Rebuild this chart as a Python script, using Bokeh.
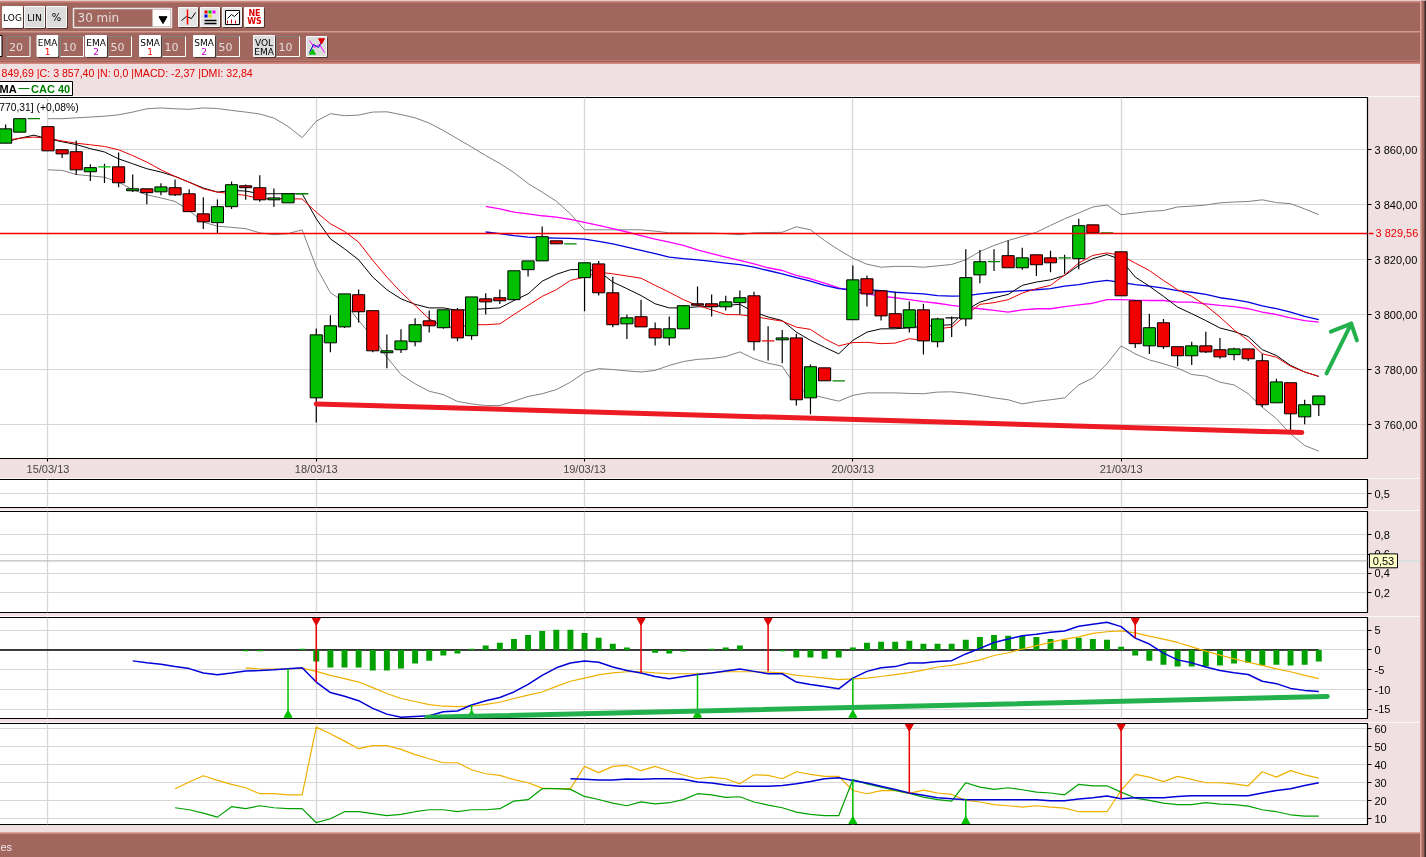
from bokeh.plotting import figure
from bokeh.layouts import column
from bokeh.models import Range1d, FixedTicker, Label, Span
from bokeh.core.properties import value
from bokeh.embed import file_html
from bokeh.resources import INLINE

# ---------------- data ----------------
candle_index = list(range(-22, 72))
opens = [3862.4,3866.4,3871.3,3868.4,3860,3859.3,3852,3853.8,3853.8,3845.1,
         3845.8,3844.7,3846.2,3844,3836.7,3833.5,3839.3,3846.9,3846.2,3841.8,
         3840.7,3844,3769.8,3789.8,3795.6,3807.3,3801.5,3786.2,3787.3,3790.2,
         3797.8,3795.3,3801.8,3792.4,3805.8,3806.2,3805.5,3816.4,3819.6,3826.9,
         3825.8,3813.5,3818.5,3808,3796.7,3799.3,3794.9,3791.6,3794.9,3804,
         3804,3802.9,3804.4,3806.9,3790.5,3790.9,3791.6,3769.8,3780.7,3776,
         3798.2,3813.1,3808.7,3800.4,3795.3,3801.8,3790.2,3798.9,3798.5,3814.5,
         3819.3,3821.5,3817.1,3821.8,3820.7,3820.7,3820.4,3832.7,3829.8,3822.9,
         3805.1,3788.7,3797.1,3788.4,3785.1,3788.7,3787.3,3785.5,3787.6,3783.3,
         3768,3775.3,3762.9,3767.3]
highs = [3869.2,3871.3,3871.3,3868.4,3860,3863.4,3854.7,3854.9,3859,3851,
         3845.8,3847.8,3849.2,3845.6,3842.7,3841.9,3848.5,3847.4,3850.7,3845.9,
         3844,3844,3795,3799.8,3807.6,3809.2,3801.5,3792.8,3794.7,3798.7,
         3801.6,3801.8,3802.5,3806.5,3807.8,3809.2,3816,3819.6,3832.1,3826.9,
         3825.8,3818.9,3819.6,3813.8,3800.1,3805.5,3797.2,3799.4,3803.6,3810.3,
         3807.4,3806.9,3808.8,3808.4,3795.8,3794.5,3793.1,3781.9,3780.7,3776,
         3817.9,3814.3,3808.7,3808.4,3804.8,3804,3798.9,3799.4,3823.8,3823.6,
         3823.8,3827,3824.4,3821.8,3823.3,3821.8,3834.9,3832.7,3829.8,3822.9,
         3805.1,3800.4,3798.5,3788.4,3790.2,3793.8,3791.6,3788,3787.6,3785.8,
         3776.7,3775.3,3769.1,3770.5]
lows = [3862.4,3866.4,3871.3,3859.6,3857,3850.8,3848.6,3847.9,3846.4,3844.6,
        3840.2,3843.5,3843.2,3837.5,3831.2,3829.7,3838.5,3841.8,3841.1,3839.2,
        3840.7,3844,3760.8,3786.4,3795.2,3797.2,3786.4,3780.6,3786.1,3788.6,
        3793.6,3794.9,3790.4,3790.9,3800.1,3803.9,3805.5,3813.9,3819.6,3825.8,
        3825.8,3801.3,3807,3795.5,3791.2,3795.6,3788.8,3788.8,3794.9,3803.2,
        3799.4,3801.6,3800.1,3787,3783.4,3782.4,3767,3763.8,3776,3776,
        3798.2,3803,3797.9,3795.3,3793.6,3785.6,3788.2,3791.9,3795.8,3811.5,
        3815.9,3817.1,3816.4,3814.1,3815.5,3814.9,3816.6,3829.8,3829.8,3806.9,
        3787.9,3785.7,3787.6,3781.3,3781.7,3786.1,3784,3783.5,3783.2,3766.4,
        3768,3757.9,3760.2,3763.2]
closes = [3867.6,3871.3,3871.3,3859.6,3858.5,3852.7,3853.5,3853.8,3848,3845.8,
          3844.4,3846.5,3843.6,3837.5,3833.8,3839.3,3847.3,3846.2,3841.8,3842.5,
          3844,3844,3792.7,3796,3807.6,3801.1,3786.9,3786.9,3790.5,3796.4,
          3796,3801.8,3791.6,3806.5,3804.7,3805.1,3816,3819.6,3828.4,3825.8,
          3825.8,3818.9,3808,3796.4,3798.9,3795.6,3791.6,3794.9,3803.3,3803.5,
          3802.9,3804.7,3806.2,3790.2,3790.5,3791.6,3769.1,3781.1,3776,3776,
          3812.7,3807.6,3799.6,3795.3,3801.8,3790.5,3798.5,3798.9,3813.5,3819.3,
          3819.3,3817.1,3820.7,3818.2,3818.9,3820.7,3832.4,3829.8,3829.8,3806.9,
          3789.5,3795.3,3788.4,3785.1,3788.7,3786.5,3784.7,3787.6,3784,3767.3,
          3775.6,3764,3767.3,3770.5]
doji_colors = {-20: "#008000", -15: "#00c000", -1: "#008000", 18: "#008000", 32: "#f00000",
               37: "#008000", 45: "#000000", 48: "#008000", 53: "#008000", 56: "#008000"}

bb_index = list(range(-19, 72))
bb_upper = [3871.3,3871.3,3871.6,3871.9,3872.2,3872.7,3873.7,3874.9,3875.2,3874.9,
            3874.7,3875.2,3875,3874.3,3873.7,3873,3871.5,3868.5,3864.4,3870.4,
            3873.1,3872.4,3872.6,3873.7,3873.8,3872.8,3871.6,3869.7,3867,3864,
            3861,3857.9,3855,3851.7,3847.7,3844.6,3841.3,3836.7,3830.9,3830.9,
            3830.9,3830.9,3830.9,3830.4,3829.8,3829.8,3829.7,3829.7,3829.5,3829.1,
            3829.8,3829.9,3830,3832,3830.9,3827,3823.6,3820.6,3818.4,3817.3,
            3817.6,3817.6,3817.3,3817.8,3818.3,3820,3823,3825.2,3827,3828.5,
            3830,3832.5,3834.9,3837,3839.2,3839.9,3836.4,3837,3837.6,3837.9,
            3839.2,3839.5,3839.9,3840.7,3841,3841.2,3841.8,3840.8,3840.4,3838.5,
            3836.4]
bb_lower = [3852.7,3852.5,3851,3850.5,3850,3848.2,3845.5,3843.6,3842.5,3841.2,
            3837.9,3833.7,3832.2,3831.8,3831.3,3829.8,3829.1,3829.5,3830.9,3817.3,
            3808.1,3804.6,3797.9,3791.9,3784.6,3778.3,3774.9,3772.2,3771,3768.5,
            3767.6,3767,3767,3768.6,3770.3,3771.3,3772.8,3775.5,3779,3780.4,
            3780.1,3779.6,3779.2,3779.8,3781.6,3783,3783.8,3784.1,3784.8,3786.5,
            3784,3782.4,3781.3,3773.7,3771,3769.8,3768.6,3770.7,3771.6,3771.6,
            3771.6,3771.4,3771.3,3771.9,3772,3771.5,3770.7,3769.8,3769.1,3767.6,
            3768.5,3769.1,3769.8,3774.5,3777,3782.2,3788.7,3785.8,3783.6,3782.2,
            3780.6,3778.3,3777.7,3775.5,3774.5,3771.3,3766.4,3762.2,3756.7,3752.5,
            3750.4]
ma_black = [3862.8,3864.2,3865.3,3864,3862.9,3861.9,3860.4,3859.2,3856.7,3854.9,
            3853.1,3851.9,3850.3,3848.2,3846.1,3844.6,3845.2,3845,3844,3844,
            3844,3844,3834.9,3827.6,3824,3820,3813.7,3809.1,3805.8,3803.8,
            3802.5,3802.5,3801.6,3801.9,3802.2,3802.5,3805.2,3807.6,3812.2,3814.7,
            3816.4,3816.5,3815.9,3811.9,3809.5,3807,3804,3802.5,3802.5,3802.9,
            3803,3803.4,3803.8,3801,3799.2,3797.9,3793.7,3790.7,3788.2,3785.8,
            3790.7,3793.7,3794.9,3794.9,3795.3,3795.8,3796.1,3796.4,3801.6,3804.6,
            3806.2,3807.4,3810.7,3811.9,3812.7,3814.3,3817.9,3820.4,3821.9,3820,
            3813.7,3810.4,3806.7,3802.8,3800.4,3797.9,3795.2,3793.9,3792.1,3787.3,
            3785.2,3781.6,3779.2,3777.6]
ma_red = [3863.4,3864.2,3864.6,3864.2,3863.2,3862.4,3861.8,3861.2,3860,3857.9,
          3855.5,3852.7,3850.3,3848.2,3845.8,3844.6,3844,3843.4,3842.2,3842.2,
          3842.2,3842.1,3837.3,3833.1,3830.3,3826.4,3819.8,3813.7,3808.2,3803.4,
          3798.5,3795.5,3795.5,3796.4,3796.4,3796.7,3800.1,3803.4,3806.7,3809.1,
          3812.5,3813.7,3815.5,3814.9,3814.1,3813.3,3810.7,3808.2,3805.5,3803.4,
          3801.8,3800.1,3800,3799.4,3798.5,3797.7,3795.5,3794.7,3791.3,3788.7,
          3789.9,3790,3789.5,3789.7,3791.3,3790.7,3794.9,3795.5,3799.8,3803.8,
          3804.4,3805.5,3807.9,3809.5,3810.7,3814.5,3818.8,3821.6,3822.5,3821.6,
          3818.8,3816.1,3812.5,3809.1,3806.7,3803.4,3799.2,3794.5,3790.7,3785.8,
          3784.6,3781.3,3779.2,3777.6]
long_index = list(range(12, 72))
ma_blue = [3830.1,3829.5,3828.8,3828.2,3828,3827.9,3827.8,3827.5,3826.7,3825.8,
           3824.6,3823.4,3822.2,3821,3820.4,3820,3819.4,3818.8,3818.2,3817.3,
           3816.1,3814.9,3813.5,3812.2,3810.7,3809.5,3809.1,3809.1,3808.8,3808.2,
           3807.9,3807.6,3807,3806.8,3806.9,3807.6,3808.1,3808.5,3808.8,3809.1,
           3809.5,3810.4,3811,3811.9,3812.5,3811.8,3811,3810.4,3809.7,3808.8,
           3808.2,3807.4,3806.2,3805.5,3804.6,3803.2,3802.2,3801,3799.4,3798.2]
ma_magenta = [3839.4,3838.5,3837.3,3836.7,3836,3835.5,3834.7,3833.6,3832.5,3831.3,
              3830.1,3828.8,3827.5,3826.4,3825.2,3823.6,3822.2,3821,3819.8,3818.5,
              3817.1,3816.1,3814.3,3813.1,3811.5,3809.8,3808.5,3807.6,3806.8,3806.2,
              3805.5,3804.8,3804.2,3803.4,3802.8,3802.2,3801.6,3801,3801.8,3802.2,
              3802.2,3803,3803.6,3804.2,3805.5,3805.5,3805.3,3805.2,3805.2,3804.6,
              3804.6,3804,3803.4,3803,3802.2,3801,3800.1,3798.9,3797.9,3797.3]
resistance_level = 3829.56
support_x = [0, 69.8]
support_y = [3767.6, 3757.2]
arrow_shaft_x = [71.55, 73.3]
arrow_shaft_y = [3778.7, 3796.8]
arrow_head_x = [71.85, 73.3, 73.7]
arrow_head_y = [3793.9, 3796.8, 3790.7]

day_ticks = [-19, 0, 19, 38, 57]
day_labels = ["15/03/13", "18/03/13", "19/03/13", "20/03/13", "21/03/13"]
price_ticks = [3760, 3780, 3800, 3820, 3840, 3860]
price_labels = ["3 760,00", "3 780,00", "3 800,00", "3 820,00", "3 840,00", "3 860,00"]

hist_index = [-5,-4,-1] + list(range(0, 23)) + [24,25,26,28,29,30] + list(range(33, 72))
hist_values = [-0.3,-0.3,0.3,-2.9,-4.4,-4.4,-4.4,-5.2,-5.2,-4.7,-3.4,-2.7,-1.4,-0.9,0.3,1.1,1.8,2.8,3.8,4.8,5.1,5.1,
               4.3,3.1,1.6,0.6,-0.7,-0.9,-0.4,0.3,0.6,1.1,-0.3,-1.9,-1.9,-2.2,-1.9,0.6,1.8,2.1,2.1,2.3,1.6,1.6,1.6,
               2.6,3.3,3.8,3.6,3.6,3.3,2.8,2.6,3.1,2.8,2.6,0.8,-1.4,-2.7,-3.7,-4.2,-4.2,-4.2,-3.9,-3.4,-3.2,-3.9,
               -3.7,-3.9,-3.7,-2.9]
macd_index = list(range(-13, 72))
macd_line = [-2.75,-3.25,-3.6,-4.2,-4.7,-5.8,-6.25,-5.8,-5.3,-5.2,-5,-4.75,-4.5,-8.1,-10.75,-11.7,-12.8,-14.75,-16.2,-17,
             -16.8,-16.6,-15.6,-15.4,-13.9,-12.8,-12,-10.6,-8.7,-6.4,-4.5,-3.3,-2.8,-3.1,-4.3,-5.2,-5.8,-6.7,-7.25,-6.7,
             -6.2,-5.8,-5.3,-4.8,-5.4,-6,-6,-8.1,-8.7,-9.2,-9.8,-7.1,-5.4,-4.5,-4.2,-3.3,-3.3,-2.9,-2.7,-1,
             0.4,1.9,2.75,3.6,4,4.5,4.8,6,6.5,7,5.9,3,1.5,-0.8,-2.5,-3.25,-4.3,-5.2,-5.75,-6.2,
             -7.9,-8.5,-9.7,-10.2,-10.5]
signal_index = list(range(-5, 72))
signal_line = [-4.5,-4.8,-4.8,-4.8,-4.6,-5.4,-6.4,-7.25,-8.1,-9.5,-11,-12.25,-13,-13.8,-14.2,-14.3,-14.2,-13.75,-13.2,-12.25,
               -11.4,-10.6,-9.2,-7.9,-7.1,-6.3,-5.8,-5.5,-5.5,-5.8,-6,-6,-6,-5.75,-5.5,-5.5,-5.5,-5.6,-5.75,-6.4,
               -6.7,-7.1,-7.5,-7.3,-7.1,-6.7,-6.2,-5.7,-5.1,-4.3,-3.9,-3.3,-2.5,-1.4,-0.7,0.25,1.1,1.9,2.75,3.3,
               4.2,4.6,4.8,4.3,3.5,2.75,1.9,0.8,-0.3,-1.3,-2.25,-3.1,-3.9,-4.75,-5.5,-6.4,-7.25]
macd_sell_x = [0, 23, 32, 58]
macd_sell_y = [-8.1, -5.8, -5.4, 3.0]
macd_buy_x = [-2, 11, 27, 38]
macd_buy_y = [-4.75, -13.9, -6.2, -7.1]
macd_trend_x = [7.83, 71.6]
macd_trend_y = [-17.0, -11.75]
macd_ticks = [-15, -10, -5, 0, 5]

dmi_index = list(range(-10, 72))
dmi_plus = [26.7,30.4,33.9,31.3,29.1,27.2,23.9,23.9,23.3,23.3,60.9,57.2,53.1,48.9,50.6,50.6,48.5,45.6,43.3,41.1,
            41.1,37.2,35,34.1,31.7,30,27,26.7,26.7,39.1,35.6,39.1,39.6,36.7,39.1,36.5,34.3,32.2,33.1,32.2,
            29.4,34.4,34.1,32.2,36.1,34.6,33.5,33.5,25.7,23.9,25.6,25.6,24.1,25.9,24.3,23.5,20.2,19.3,17.8,17.2,
            16.5,17.2,16.5,15.9,13.9,13.9,13.9,25.7,34.6,33.1,30.6,33.5,31.9,30,30,29.4,28.3,36.1,33.1,36.7,
            34.4,32.6]
dmi_minus = [16.1,15,13.1,10.9,16.7,15.6,17.2,16.1,15.6,15.6,7.8,10,13.9,13.9,12.8,11.7,12.4,13.9,15,15,
             13.9,15,15,15.6,19.8,20.6,26.7,26.7,26.3,22.4,20.7,18.7,17.2,19.4,18.3,18.9,20.6,23.9,23.3,21.9,
             22.2,19.3,17.6,16.1,13.7,12.4,11.7,11.7,31.7,29.4,27.5,25.7,24.1,22,20.6,19.8,30,27.6,26.3,27.2,
             26.1,24.8,24.3,23.3,29.1,28.3,28.3,24.8,21.5,20.2,18.7,17.8,17.8,18.9,18.1,17.8,17,15,13.9,12.2,
             11.5,11.5]
adx_index = list(range(18, 72))
adx_line = [32.2,31.9,31.5,31.5,32.1,31.9,32.2,32.2,31.9,30.4,29.8,28.7,28,28,28,28.5,29.4,30.7,32.2,32.8,
            31.3,29.8,28,26.3,24.3,23,21.7,21.1,20.6,20.6,20.6,20.6,20.6,20.6,20,20,20.9,21.7,22.6,21.1,
            21.7,21.7,21.7,22.4,22.8,22.8,22.8,22.8,22.8,24.3,25.7,26.7,28.5,30]
dmi_sell_x = [42, 57]
dmi_sell_y = [24.1, 21.1]
dmi_buy_x = [38, 46]
dmi_buy_y = [31.7, 21.1]
dmi_ticks = [10, 20, 30, 40, 50, 60]
osc_ticks = [0.2, 0.4, 0.6, 0.8]
osc_value = 0.53
vol_ticks = [0.5]

# ---------------- styling ----------------
FONT = "Liberation Sans"
BROWN = "#a1675f"
PINK = "#f0e0e1"
SALMON = "#d5877b"
GRID = "#d6d6d6"
X_START, X_END = -22.505, 74.45
FULL_W = 1422


def panel(height, y0, y1, yticks, labels, bottom, xaxis=False):
    p = figure(width=FULL_W, height=height, x_range=Range1d(X_START, X_END), y_range=Range1d(y0, y1),
               y_axis_location="right", output_backend="svg", toolbar_location=None,
               min_border_left=0, min_border_right=52, min_border_top=1, min_border_bottom=bottom,
               background_fill_color="white", border_fill_color=PINK, outline_line_color="black",
               outline_line_width=1.2)
    p.yaxis.ticker = FixedTicker(ticks=yticks)
    p.yaxis.major_label_overrides = dict(zip(yticks, labels))
    p.yaxis.major_label_text_font = FONT
    p.yaxis.major_label_text_font_size = "11px"
    p.yaxis.major_label_text_color = "black"
    p.yaxis.major_label_standoff = 3
    p.yaxis.major_tick_in = 0
    p.yaxis.major_tick_out = 4
    p.yaxis.minor_tick_line_color = None
    p.yaxis.axis_line_color = "black"
    p.xaxis.ticker = FixedTicker(ticks=day_ticks)
    p.xaxis.visible = xaxis
    p.xgrid.ticker = FixedTicker(ticks=day_ticks)
    p.ygrid.ticker = FixedTicker(ticks=yticks)
    p.xgrid.grid_line_color = GRID
    p.ygrid.grid_line_color = GRID
    p.xgrid.grid_line_width = 1.3
    p.ygrid.grid_line_width = 1
    return p


def txt(f, x, y, s, color="black", size=11, align="left", style="normal", font=FONT):
    f.text([x], [y], text=[s], text_color=color, text_font=value(font), text_font_size=f"{size}px",
           text_align=align, text_baseline="middle", text_font_style=style)


def chrome_fig(height, y0, y1, fill):
    f = figure(width=FULL_W, height=height, x_range=Range1d(-2, 1420), y_range=Range1d(y1, y0),
               output_backend="svg", toolbar_location=None, min_border=0, outline_line_color=None,
               background_fill_color=fill, border_fill_color=fill, x_axis_location=None, y_axis_location=None)
    f.grid.visible = False
    return f


def box(f, x0, y0, x1, y1, fill, line="black", lw=1):
    f.quad(left=[x0], right=[x1], top=[y0], bottom=[y1], fill_color=fill, line_color=line, line_width=lw)


def button(f, x0, y0, x1, y1, fill="white"):
    box(f, x0 + 1, y0 + 1, x1 + 1, y1 + 1, "black", None)
    box(f, x0, y0, x1, y1, fill, "#f8f8f8")


def field(f, x0, s):
    box(f, x0, 36, x0 + 23, 56, BROWN, "#808080")
    f.line([x0, x0 + 23, x0 + 23], [56, 56, 36], line_color="white", line_width=1)
    txt(f, x0 + 2, 46, s, "#e6dcdc", 11, font="DejaVu Sans")


def ma_button(f, x0, name, num=None, numc="red", fill="white"):
    button(f, x0, 35, x0 + 21, 56, fill)
    txt(f, x0 + 10.5, 42, name, "black", 9, "center", font="DejaVu Sans")
    txt(f, x0 + 10.5, 51, num, numc, 9, "center", font="DejaVu Sans")


def place(model, left, top_px):
    model.styles = {"position": "fixed", "left": f"{left}px", "top": f"{top_px}px"}
    return model


# ---------------- top chrome ----------------
top = chrome_fig(96, 0, 96, PINK)
box(top, -2, 0, 1420, 62, BROWN, None)
box(top, -2, 0.5, 1420, 2, SALMON, None)
box(top, -2, 30.5, 1420, 32, "#d39a90", None)
box(top, -2, 60, 1420, 61, SALMON, None)
box(top, -2, 61, 1420, 62, "#8a4a44", None)
box(top, -2, 62, 1420, 63.5, SALMON, None)
button(top, 2, 6, 22, 27)
txt(top, 12, 17, "LOG", "black", 9, "center", font="DejaVu Sans")
button(top, 24, 6, 44, 27, "#dcdcdc")
txt(top, 34, 17, "LIN", "black", 9, "center", font="DejaVu Sans")
button(top, 46, 6, 66, 27, "#dcdcdc")
txt(top, 56, 17, "%", "black", 10, "center", font="DejaVu Sans")
box(top, 73, 8, 171, 27, BROWN, "#e8e8e8", 1.5)
box(top, 152, 9, 170, 26, "white", None)
top.scatter([162.5], [18.5], marker="inverted_triangle", size=8, color="black")
txt(top, 77, 17.5, "30 min", "#e6dcdc", 12, font="DejaVu Sans")
for x0 in (178, 200, 222, 244):
    button(top, x0, 7, x0 + 19, 26, "#e4e4e4" if x0 != 244 else "white")
top.line([181, 186, 191, 195], [20, 16, 18, 12], line_color="black")
top.segment([187], [9], [187], [24], line_color="red", line_width=1.5)
top.quad(left=[204, 208, 212], right=[207, 211, 215], top=[10, 10, 10], bottom=[13, 13, 13],
         fill_color=["#e00000", "#00c000", "#ff00ff"], line_color=None)
top.quad(left=[204, 208], right=[207, 211], top=[14, 14], bottom=[17, 17],
         fill_color=["#0000e0", "#e0e000"], line_color=None)
top.segment([204, 204], [20, 23], [216, 216], [20, 23], line_color="black", line_width=1.5)
box(top, 225, 10, 239, 24, "white", "black")
top.line([227, 231, 234, 238], [18, 14, 16, 12], line_color="black")
top.segment([227, 231, 235], [23, 23, 23], [227, 231, 235], [20, 19, 20], line_color="#d00000")
txt(top, 254, 12.5, "NE", "#e00000", 8, "center", "bold", "DejaVu Sans")
txt(top, 254, 20.5, "WS", "#e00000", 8, "center", "bold", "DejaVu Sans")
box(top, -3, 35, 1.5, 56, "white", "black")
field(top, 6.5, "20")
ma_button(top, 36.5, "EMA", "1", "red")
field(top, 60, "10")
ma_button(top, 85, "EMA", "2", "#c000c0")
field(top, 108, "50")
ma_button(top, 139, "SMA", "1", "red")
field(top, 162, "10")
ma_button(top, 193, "SMA", "2", "#c000c0")
field(top, 216, "50")
ma_button(top, 253, "VOL", "EMA", "black", "#dcdcdc")
field(top, 276, "10")
button(top, 306, 36, 326, 56, "#dcdcdc")
top.line([309, 314, 319, 324], [40, 47, 44, 52], line_color="#ff00ff")
top.line([309, 313, 318, 323], [52, 44, 47, 38], line_color="#0000d0")
top.scatter([321], [40], marker="inverted_triangle", size=6, color="#e00000")
top.scatter([312], [52], marker="triangle", size=6, color="#00c000")
txt(top, 1, 72.5, "849,69 |C: 3 857,40 |N: 0,0 |MACD: -2,37 |DMI: 32,84", "#e00000", 10.6)
box(top, -3, 81, 72, 95, "white", "black")
txt(top, -1, 88, "MA", "black", 11, style="bold")
top.segment([18], [88], [29], [88], line_color="#008000", line_width=1)
txt(top, 30.5, 88, "CAC 40", "#008000", 11, style="bold")

# ---------------- main price panel ----------------
main = panel(382, 3747.75, 3879.0, price_ticks, price_labels, 20, xaxis=True)
main.xaxis.major_label_overrides = dict(zip(day_ticks, day_labels))
main.xaxis.major_label_text_font = FONT
main.xaxis.major_label_text_font_size = "11px"
main.xaxis.major_label_standoff = 1
main.xaxis.major_tick_in = 0
main.xaxis.major_tick_out = 3
main.xaxis.minor_tick_line_color = None
main.xaxis.axis_line_color = "black"
main.line(bb_index, bb_upper, line_color="#808080", line_width=1)
main.line(bb_index, bb_lower, line_color="#808080", line_width=1)
main.add_layout(Span(location=resistance_level, dimension="width", line_color="#f00000", line_width=1.4))
main.line(long_index, ma_magenta, line_color="#ff00ff", line_width=1.3)
main.line(long_index, ma_blue, line_color="#0000e0", line_width=1.3)
main.line(candle_index, ma_black, line_color="black", line_width=1)
main.line(candle_index, ma_red, line_color="#e80000", line_width=1)
main.segment(candle_index, highs, candle_index, lows, line_color="black", line_width=1.2)
body_x, body_top, body_bot, body_col = [], [], [], []
for i, o, c in zip(candle_index, opens, closes):
    if o != c:
        body_x.append(i)
        body_top.append(max(o, c))
        body_bot.append(min(o, c))
        body_col.append("#00c000" if c > o else "#f00000")
main.vbar(x=body_x, top=body_top, bottom=body_bot, width=0.86, fill_color=body_col,
          line_color="black", line_width=1)
doji_x = [i for i, o, c in zip(candle_index, opens, closes) if o == c]
doji_y = [o for o, c in zip(opens, closes) if o == c]
main.segment([x - 0.44 for x in doji_x], doji_y, [x + 0.44 for x in doji_x], doji_y,
             line_color=[doji_colors[x] for x in doji_x], line_width=1.3)
main.line(support_x, support_y, line_color="#ed1c24", line_width=5, line_cap="round")
main.line(arrow_shaft_x, arrow_shaft_y, line_color="#22b14c", line_width=4, line_cap="round")
main.line(arrow_head_x, arrow_head_y, line_color="#22b14c", line_width=4, line_cap="round", line_join="round")
main.add_layout(Label(x=-22.45, y=3875.3, text="770,31] (+0,08%)", text_font=FONT, text_font_size="10.3px",
                      text_baseline="middle", text_color="black"))

# ---------------- empty volume panel ----------------
vol = panel(32, 0, 1, vol_ticks, ["0,5"], 3)

# ---------------- oscillator panel ----------------
osc = panel(106, -0.005, 1.041, osc_ticks, ["0,2", "0,4", "0,6", "0,8"], 4)
osc.add_layout(Span(location=osc_value, dimension="width", line_color="#bdbdbd", line_width=1.3))

# ---------------- MACD panel ----------------
mac = panel(106, -17.3, 8.2, macd_ticks, ["-15", "-10", "-5", "0", "5"], 4)
mac.segment([X_START], [0], [71], [0], line_color="black", line_width=1.5)
mac.vbar(x=hist_index, top=hist_values, bottom=0, width=0.42, fill_color="#00a000", line_color=None)
mac.line(signal_index, signal_line, line_color="#f0b000", line_width=1.2)
mac.line(macd_index, macd_line, line_color="#0000d8", line_width=1.5)
mac.segment(macd_sell_x, [8.2] * 4, macd_sell_x, macd_sell_y, line_color="#e80000", line_width=1.5)
mac.scatter(macd_sell_x, [7.4] * 4, marker="inverted_triangle", size=8, color="#e00000")
mac.segment(macd_buy_x, [-17.3] * 4, macd_buy_x, macd_buy_y, line_color="#00c000", line_width=1.5)
mac.scatter(macd_buy_x, [-16.4] * 4, marker="triangle", size=8, color="#00c000")
mac.line(macd_trend_x, macd_trend_y, line_color="#22b14c", line_width=5, line_cap="round")

# ---------------- DMI panel ----------------
dmi = panel(110, 6.8, 62.9, dmi_ticks, ["10", "20", "30", "40", "50", "60"], 8)
dmi.line(dmi_index, dmi_plus, line_color="#f0b000", line_width=1.2)
dmi.line(dmi_index, dmi_minus, line_color="#00a000", line_width=1.2)
dmi.line(adx_index, adx_line, line_color="#0000d8", line_width=1.5)
dmi.segment(dmi_sell_x, [62.9] * 2, dmi_sell_x, dmi_sell_y, line_color="#e80000", line_width=1.5)
dmi.scatter(dmi_sell_x, [61.2] * 2, marker="inverted_triangle", size=8, color="#e00000")
dmi.segment(dmi_buy_x, [6.8] * 2, dmi_buy_x, dmi_buy_y, line_color="#00c000", line_width=1.5)
dmi.scatter(dmi_buy_x, [8.6] * 2, marker="triangle", size=8, color="#00c000")

# ---------------- bottom chrome and right edge ----------------
bottom = chrome_fig(25, 832, 857, BROWN)
box(bottom, -2, 832, 1420, 833.5, SALMON, None)
txt(bottom, 0, 846.5, "es", "#f0e8e8", 11)

strip = figure(width=6, height=857, x_range=Range1d(0, 6), y_range=Range1d(857, 0), output_backend="svg",
               toolbar_location=None, min_border=0, outline_line_color=None, background_fill_color=BROWN,
               border_fill_color=BROWN, x_axis_location=None, y_axis_location=None)
strip.grid.visible = False
strip.quad(left=[0, 4], right=[1.5, 6], top=[0, 0], bottom=[857, 857],
           fill_color=[SALMON, "#3a2a28"], line_color=None)


# ---------------- value tags in the right margin ----------------
def tag_fig(height, y_range, bottom_border):
    f = figure(width=52, height=height, x_range=Range1d(0, 52), y_range=y_range, output_backend="svg",
               toolbar_location=None, min_border_left=0, min_border_right=0, min_border_top=1,
               min_border_bottom=bottom_border, outline_line_color=None, background_fill_color=None,
               border_fill_color=None, x_axis_location=None, y_axis_location=None)
    f.grid.visible = False
    return f


main_tag = tag_fig(382, main.y_range, 20)
main_tag.segment([0], [resistance_level], [5], [resistance_level], line_color="#f00000", line_width=1.4)
main_tag.text([7], [resistance_level], text=["3 829,56"], text_color="#f00000", text_font=value(FONT),
              text_font_size="11px", text_baseline="middle")

osc_tag = tag_fig(106, osc.y_range, 4)
osc_tag.segment([29], [osc_value], [51], [osc_value], line_color="#c8e2e2", line_width=1)
osc_tag.quad(left=[1], right=[29], top=[osc_value + 0.072], bottom=[osc_value - 0.072],
             fill_color="#ffffc8", line_color="black", line_width=1)
osc_tag.text([15], [osc_value], text=["0,53"], text_color="black", text_font=value(FONT),
             text_font_size="11px", text_baseline="middle", text_align="center")

panels = column(main, vol, osc, mac, dmi, spacing=0)
roots = [place(top, -2, 0), place(panels, -2, 96), place(bottom, -2, 832), place(strip, 1420, 0),
         place(main_tag, 1368, 96), place(osc_tag, 1368, 510)]

open("out.html", "w").write(file_html(roots, INLINE))
